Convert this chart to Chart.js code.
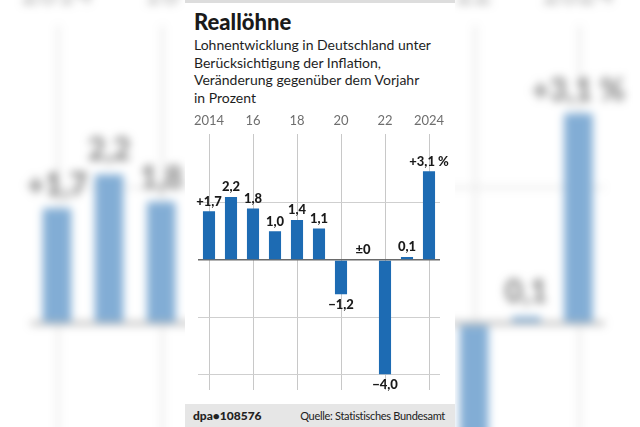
<!DOCTYPE html>
<html>
<head>
<meta charset="utf-8">
<script src="https://cdn.jsdelivr.net/npm/chart.js@4"></script>
<style>
  html, body { margin: 0; padding: 0; background: #fff; }
  #stage { position: relative; width: 640px; height: 427px; overflow: hidden; font-family: Lato, "Noto Sans", sans-serif; }
  .layer { position: absolute; left: 0; top: 0; width: 640px; height: 427px; }
  #bgWrap { filter: blur(4px); opacity: 0.55; }
  #bgLayer { transform: scale(2.37); transform-origin: 320px 213.5px; }
  .panel { position: absolute; left: 185px; top: 0; width: 270px; height: 427px; background: #fff; }
  .topbar { position: absolute; left: 0; top: 0; width: 270px; height: 3px; background: #ddd; }
  .title { position: absolute; left: 9px; top: 8px; font-size: 22px; font-weight: 900; color: #1a1a1a; }
  .sub { position: absolute; left: 9px; top: 36px; font-size: 14px; line-height: 17.5px; color: #1e1e1e; }
  .foot { position: absolute; left: 0; top: 404px; width: 270px; height: 23px; background: #e6e6e6; font-size: 11px; color: #222; }
  .foot .l { position: absolute; left: 8px; top: 4px; font-weight: 900; font-size: 12px; }
  .foot .r { position: absolute; right: 10px; top: 4.5px; letter-spacing: -0.3px; }
  canvas { position: absolute; left: 0; top: 108px; }
</style>
</head>
<body>
<div id="stage">
  <div id="bgWrap" class="layer"><div id="bgLayer" class="layer"></div></div>
  <div id="fgLayer" class="layer"></div>
</div>
<script>
// Reallöhne, Veränderung gegenüber Vorjahr in %
var years = ['2014', '2015', '2016', '2017', '2018', '2019', '2020', '2021', '2022', '2023', '2024'];
var values = [1.7, 2.2, 1.8, 1.0, 1.4, 1.1, -1.2, 0, -4.0, 0.1, 3.1];
var valueLabels = ['+1,7', '2,2', '1,8', '1,0', '1,4', '1,1', '\u22121,2', '\u00b10', '\u22124,0', '0,1', '+3,1 %'];
var tickLabels = ['2014', '', '16', '', '18', '', '20', '', '22', '', '2024'];
var gridLines = [-4, -2, 0, 2, 4];

var barBlue = '#1d6bb3';

// draws value text above/below each bar
var valueLabelPlugin = {
    id: 'valueLabels',
    afterDatasetsDraw: function (chart) {
        var c = chart.ctx;
        var meta = chart.getDatasetMeta(0);
        c.save();
        c.font = '900 13px Lato, sans-serif';
        c.fillStyle = '#1a1a1a';
        c.textAlign = 'center';
        c.textBaseline = 'middle';
        meta.data.forEach(function (bar, i) {
            var v = values[i];
            var y = v < 0 ? bar.y + 11 : bar.y - 10;
            c.fillText(valueLabels[i], bar.x, y);
        });
        c.restore();
    }
};

function buildPanel(layer) {
    var panel = document.createElement('div');
    panel.className = 'panel';
    panel.innerHTML =
        '<div class="topbar"></div>' +
        '<div class="title">Reallöhne</div>' +
        '<div class="sub">Lohnentwicklung in Deutschland unter<br>Berücksichtigung der Inflation,<br>Veränderung gegenüber dem Vorjahr<br>in Prozent</div>' +
        '<div class="foot"><span class="l">dpa\u2022108576</span><span class="r">Quelle: Statistisches Bundesamt</span></div>';
    var canvas = document.createElement('canvas');
    canvas.width = 270;
    canvas.height = 292;
    panel.appendChild(canvas);
    layer.appendChild(panel);

    new Chart(canvas.getContext('2d'), {
        type: 'bar',
        data: {
            labels: years,
            datasets: [{
                data: values,
                backgroundColor: barBlue,
                barPercentage: 0.55,
                categoryPercentage: 1.0
            }]
        },
        options: {
            responsive: false,
            animation: false,
            layout: { padding: { left: 13, right: 15, top: 0, bottom: 10 } },
            plugins: { legend: { display: false }, tooltip: { enabled: false } },
            scales: {
                x: {
                    position: 'top',
                    offset: true,
                    border: { display: false },
                    grid: {
                        offset: false,
                        drawTicks: false,
                        color: function (ctx) { return ctx.index % 2 === 0 ? '#c8c8c8' : 'rgba(0,0,0,0)'; },
                        lineWidth: 1
                    },
                    ticks: {
                        padding: 5,
                        color: '#6e6e6e',
                        font: { family: 'Lato', size: 13 },
                        autoSkip: false,
                        maxRotation: 0,
                        callback: function (val, i) { return tickLabels[i]; }
                    }
                },
                y: {
                    min: -4.55,
                    max: 4.42,
                    border: { display: false },
                    grid: {
                        drawTicks: false,
                        color: function (ctx) {
                            var v = ctx.tick.value;
                            if (v === 0) return '#6a6a6a';
                            return gridLines.indexOf(v) >= 0 ? '#cfcfcf' : 'rgba(0,0,0,0)';
                        },
                        lineWidth: function (ctx) { return ctx.tick.value === 0 ? 1.5 : 1; }
                    },
                    ticks: { display: false, stepSize: 2 }
                }
            }
        },
        plugins: [valueLabelPlugin]
    });
}

buildPanel(document.getElementById('bgLayer'));
buildPanel(document.getElementById('fgLayer'));
</script>
</body>
</html>
